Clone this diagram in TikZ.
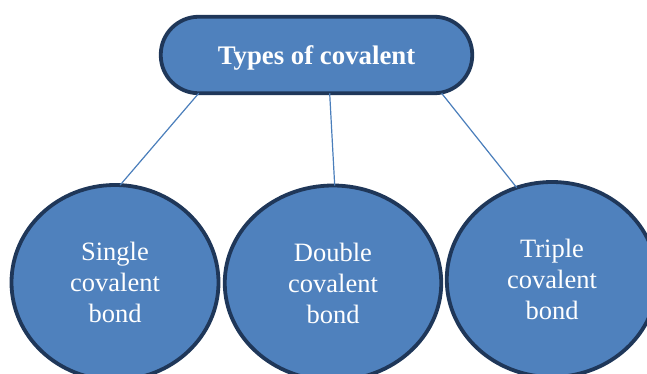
\documentclass[tikz,border=0pt]{standalone}
\usepackage{fontspec}
\setmainfont{Liberation Serif}
\usetikzlibrary{shapes.geometric}
\definecolor{boxfill}{HTML}{4F81BD}
\definecolor{boxline}{HTML}{1F3759}
\definecolor{linkcol}{HTML}{4A7EBB}
\tikzset{
  typebox/.style={draw=boxline,fill=boxfill,line width=3.8pt,text=white,outer sep=0pt},
  head/.style={typebox,rectangle,rounded corners=38pt,minimum width=311.5pt,minimum height=76.5pt,
    text depth=0pt,font=\fontsize{26.8}{30}\selectfont\bfseries},
  bondball/.style={typebox,ellipse,inner sep=0pt,align=center,minimum height=195pt,
    font=\fontsize{26.5}{31}\selectfont},
  link/.style={draw=linkcol,line width=1.2pt}
}
\begin{document}
\begin{tikzpicture}[x=1pt,y=-1pt]
\useasboundingbox (0,0) rectangle (647,374);
\node[head] (types) at (316.5,55) {Types of covalent};
\node[bondball,minimum width=207pt] (single) at (115,282.5) {Single\\covalent\\bond};
\node[bondball,minimum width=216.5pt] (double) at (333,283) {Double\\covalent\\bond};
\node[bondball,minimum width=210.5pt] (triple) at (552,279.5) {Triple\\covalent\\bond};
\draw[link] (types.198.5) -- (single.87);
\draw[link] (types.289.6) -- (double.89);
\draw[link] (types.343.8) -- (triple.111);
\end{tikzpicture}
\end{document}
